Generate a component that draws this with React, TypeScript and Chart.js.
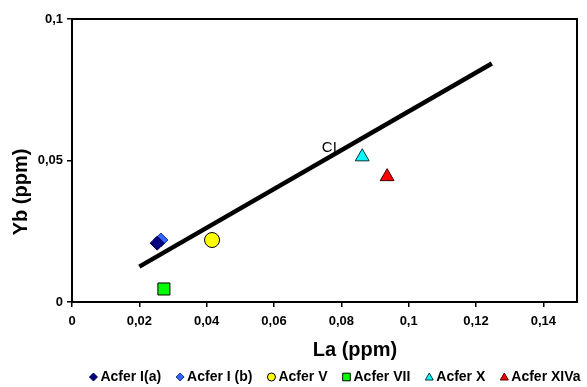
import React, { useEffect, useRef } from "react";
import { Chart, registerables } from "chart.js";
Chart.register(...registerables);

const seriesNames = ["Acfer I(a)", "Acfer I (b)", "Acfer V", "Acfer VII", "Acfer X", "Acfer XIVa"];
const seriesLa = [0.0253, 0.0264, 0.0416, 0.0273, 0.0862, 0.0936];
const seriesYb = [0.0208, 0.0219, 0.0219, 0.0046, 0.0513, 0.0443];
const seriesColors = ["#000080", "#3366FF", "#FFFF00", "#00FF00", "#00FFFF", "#FF0000"];
const seriesBorders = ["#000050", "#1a2f80", "#000000", "#000000", "#003333", "#440000"];
const seriesShapes = ["rectRot", "rectRot", "circle", "rect", "triangle", "triangle"];
const seriesRadius = [7, 7, 7.5, 8.5, 8, 8];
const ciLineLa = [0.02, 0.1247];
const ciLineYb = [0.0125, 0.0843];
const ciLabel = "CI";
const ciLabelPos = [0.0742, 0.0545];
const xTickValues = [0, 0.02, 0.04, 0.06, 0.08, 0.1, 0.12, 0.14];
const yTickValues = [0, 0.05, 0.1];
const xMax = 0.15;
const yMax = 0.1;
const xTitle = "La (ppm)";
const yTitle = "Yb (ppm)";

const FONT = "Arial, 'Liberation Sans', sans-serif";

const fmt = (v: number) => {
  const r = Math.round(v * 1000) / 1000;
  return String(r).replace(".", ",");
};

function drawMarker(ctx: CanvasRenderingContext2D, shape: string, x: number, y: number, s: number) {
  ctx.beginPath();
  if (shape === "rectRot") {
    ctx.moveTo(x, y - s);
    ctx.lineTo(x + s, y);
    ctx.lineTo(x, y + s);
    ctx.lineTo(x - s, y);
    ctx.closePath();
  } else if (shape === "circle") {
    ctx.arc(x, y, s, 0, Math.PI * 2);
  } else if (shape === "rect") {
    ctx.rect(x - s * 0.95, y - s * 0.95, s * 1.9, s * 1.9);
  } else {
    ctx.moveTo(x, y - s);
    ctx.lineTo(x + s, y + s * 0.75);
    ctx.lineTo(x - s, y + s * 0.75);
    ctx.closePath();
  }
  ctx.fill();
  ctx.stroke();
}

export default function App() {
  const ref = useRef<HTMLCanvasElement>(null);
  useEffect(() => {
    if (!ref.current) return;
    const datasets: any[] = seriesNames.map((n, i) => ({
      type: "scatter",
      label: n,
      data: [{ x: seriesLa[i], y: seriesYb[i] }],
      backgroundColor: seriesColors[i],
      borderColor: seriesBorders[i],
      borderWidth: 1,
      pointStyle: seriesShapes[i],
      pointRadius: seriesRadius[i],
      order: 1,
    }));
    datasets.unshift({
      type: "line",
      label: "CI",
      data: ciLineLa.map((x, i) => ({ x, y: ciLineYb[i] })),
      borderColor: "#000000",
      borderWidth: 4.5,
      pointRadius: 0,
      showLine: true,
      order: 2,
    });
    const framePlugin = {
      id: "frame",
      afterDatasetsDraw(chart: any) {
        const { ctx, chartArea: a, scales } = chart;
        ctx.save();
        ctx.font = `15px ${FONT}`;
        ctx.fillStyle = "#000";
        ctx.textBaseline = "middle";
        ctx.textAlign = "left";
        ctx.fillText(ciLabel, scales.x.getPixelForValue(ciLabelPos[0]), scales.y.getPixelForValue(ciLabelPos[1]));
        ctx.strokeStyle = "#000";
        ctx.lineWidth = 2;
        ctx.strokeRect(a.left, a.top, a.right - a.left, a.bottom - a.top);

        // axis titles
        ctx.font = `bold 20px ${FONT}`;
        ctx.textAlign = "center";
        ctx.fillText(xTitle, 355, 350);
        ctx.save();
        ctx.translate(21, 192);
        ctx.rotate(-Math.PI / 2);
        ctx.fillText(yTitle, 0, 0);
        ctx.restore();

        // legend
        ctx.font = `bold 14px ${FONT}`;
        ctx.textAlign = "left";
        const gap = 3;
        const mk = 8;
        const spacing = 15;
        const widths = seriesNames.map((n) => ctx.measureText(n).width);
        const total = widths.reduce((s, w) => s + mk + gap + w, 0) + spacing * (seriesNames.length - 1);
        let x = 335 - total / 2;
        const y = 377;
        ctx.lineWidth = 1;
        seriesNames.forEach((n, i) => {
          ctx.fillStyle = seriesColors[i];
          ctx.strokeStyle = seriesBorders[i];
          drawMarker(ctx, seriesShapes[i], x + mk / 2, y, 4);
          ctx.fillStyle = "#000";
          ctx.fillText(n, x + mk + gap, y + 0.5);
          x += mk + gap + widths[i] + spacing;
        });
        ctx.restore();
      },
    };
    const chart = new Chart(ref.current, {
      type: "scatter",
      data: { datasets },
      plugins: [framePlugin],
      options: {
        animation: false,
        responsive: false,
        maintainAspectRatio: false,
        layout: { padding: { top: 19, right: 10, left: 0, bottom: 26 } },
        plugins: {
          tooltip: { enabled: false },
          legend: { display: false },
        },
        scales: {
          x: {
            type: "linear",
            min: 0,
            max: xMax,
            afterBuildTicks: (s: any) => {
              s.ticks = xTickValues.map((v) => ({ value: v }));
            },
            afterFit: (s: any) => {
              s.height = 59;
            },
            ticks: {
              color: "#000",
              font: { family: FONT, size: 13, weight: "bold" },
              callback: (v: any) => fmt(Number(v)),
              maxRotation: 0,
              autoSkip: false,
              padding: 7,
            },
            grid: { display: true, drawOnChartArea: false, drawTicks: true, tickLength: 5, color: "#000", lineWidth: 1.5 },
            border: { display: true, color: "#000", width: 2 },
            title: { display: false },
          },
          y: {
            type: "linear",
            min: 0,
            max: yMax,
            afterBuildTicks: (s: any) => {
              s.ticks = yTickValues.map((v) => ({ value: v }));
            },
            afterFit: (s: any) => {
              s.width = 72;
            },
            ticks: {
              color: "#000",
              font: { family: FONT, size: 13, weight: "bold" },
              callback: (v: any) => fmt(Number(v)),
              autoSkip: false,
              padding: 4,
            },
            grid: { display: true, drawOnChartArea: false, drawTicks: true, tickLength: 5, color: "#000", lineWidth: 1.5 },
            border: { display: true, color: "#000", width: 2 },
            title: { display: false },
          },
        },
      },
    } as any);
    return () => chart.destroy();
  }, []);
  return (
    <div style={{ position: "fixed", left: 0, top: 0, width: 587, height: 387, background: "#fff" }}>
      <canvas ref={ref} width={587} height={387} style={{ width: 587, height: 387 }} />
    </div>
  );
}
